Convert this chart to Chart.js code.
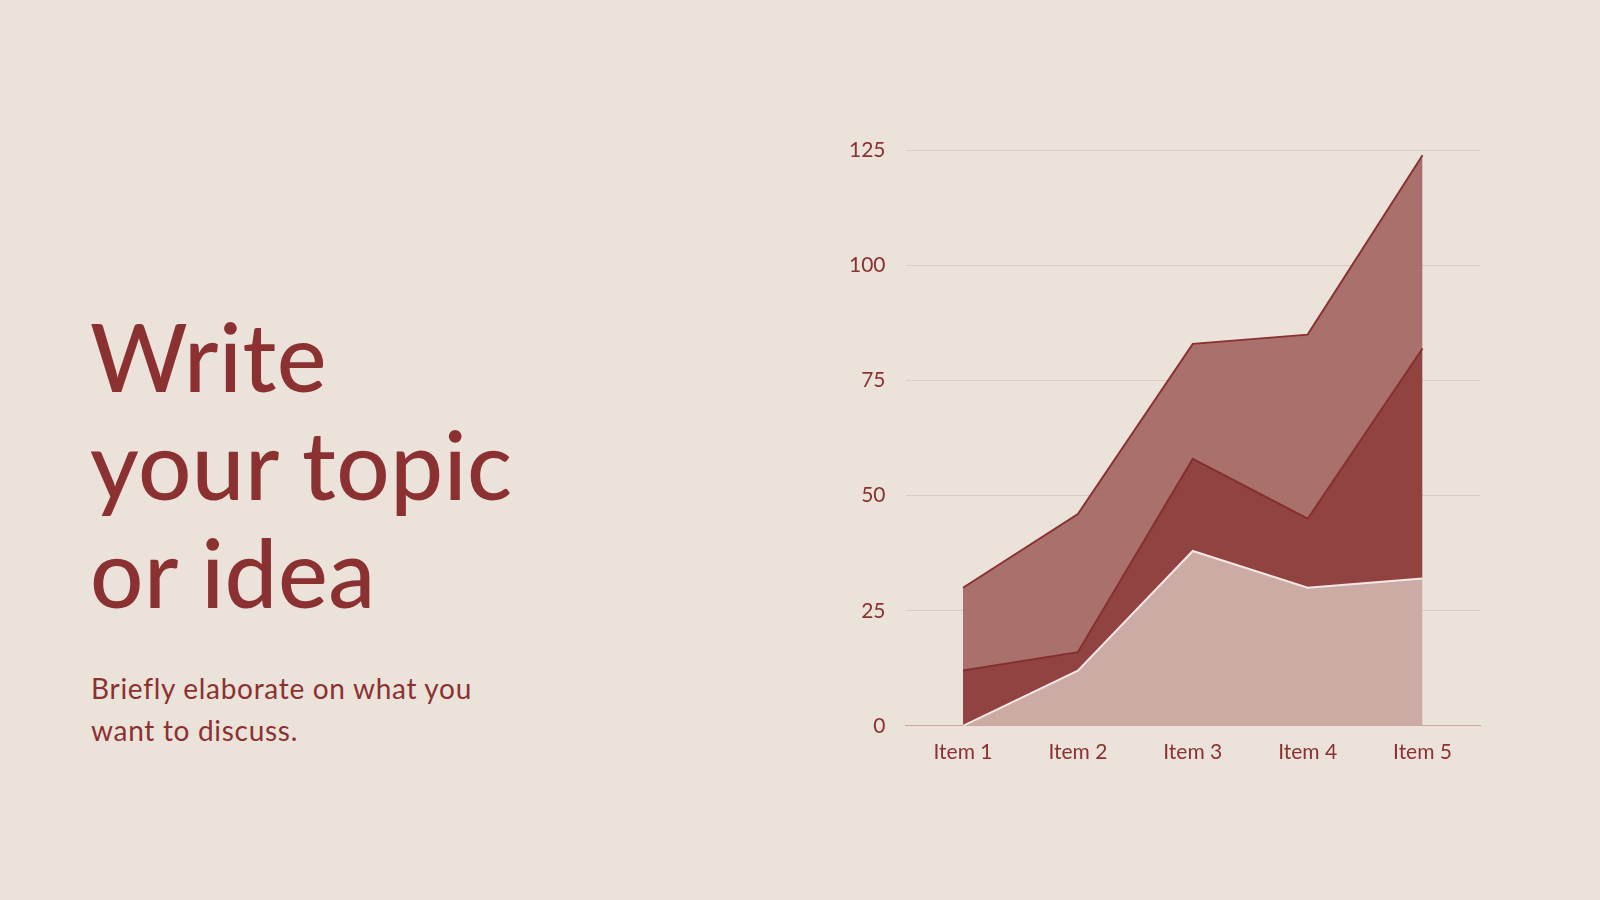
<!DOCTYPE html>
<html>
<head>
<meta charset="utf-8">
<script src="https://cdn.jsdelivr.net/npm/chart.js@4"></script>
<style>
  html, body { margin: 0; padding: 0; }
  body { width: 1600px; height: 900px; background: #ebe2da; position: relative; overflow: hidden; font-family: Lato, "Open Sans", sans-serif; color: #8b3131; }
  #title { position: absolute; left: 90px; top: 302px; font-size: 94px; line-height: 108px; font-weight: 500; letter-spacing: 0.5px; margin: 0; }
  #sub { position: absolute; left: 91px; top: 667px; font-size: 28px; line-height: 42px; letter-spacing: 0.7px; margin: 0; }
  #wrap { position: absolute; left: 820px; top: 118px; width: 680px; height: 653px; }
</style>
</head>
<body>
<h1 id="title">Write<br>your topic<br>or idea</h1>
<p id="sub">Briefly elaborate on what you<br>want to discuss.</p>
<div id="wrap"><canvas id="areaChart"></canvas></div>
<script>
// chart data
const items = ['Item 1', 'Item 2', 'Item 3', 'Item 4', 'Item 5'];
const series1 = [0, 12, 38, 30, 32];
const series2 = [12, 4, 20, 15, 50];
const series3 = [18, 30, 25, 40, 42];
const yTicks = [0, 25, 50, 75, 100, 125];

const textColor = '#8b3131';

// Draw the stacked area chart
function drawChart() {
    const ctx = document.getElementById('areaChart').getContext('2d');
    new Chart(ctx, {
        type: 'line',
        data: {
            labels: items,
            datasets: [{
                label: 'Series 1',
                data: series1,
                fill: 'origin',
                backgroundColor: '#ccaba4',
                borderColor: '#f4e8e4',
                borderWidth: 2
            },
            {
                label: 'Series 2',
                data: series2,
                fill: '-1',
                backgroundColor: 'rgba(140, 58, 58, 0.95)',
                borderColor: '#853030',
                borderWidth: 2
            },
            {
                label: 'Series 3',
                data: series3,
                fill: '-1',
                backgroundColor: 'rgba(166, 104, 100, 0.94)',
                borderColor: '#8a3232',
                borderWidth: 2
            }]
        },
        options: {
            responsive: true,
            maintainAspectRatio: false,
            animation: false,
            elements: { point: { radius: 0 }, line: { tension: 0 } },
            layout: { padding: { top: 10, right: 20, bottom: 0, left: 9 } },
            plugins: { legend: { display: false }, tooltip: { enabled: false } },
            scales: {
                x: {
                    offset: true,
                    grid: { display: false },
                    border: { display: true, color: '#c9a49c', width: 1 },
                    ticks: { color: textColor, font: { family: 'Lato', size: 21 }, padding: 6 }
                },
                y: {
                    stacked: true,
                    min: 0,
                    max: 125,
                    afterBuildTicks: axis => { axis.ticks = yTicks.map(v => ({ value: v })); },
                    grid: { color: '#dccbc2', lineWidth: 1, drawTicks: false },
                    border: { display: false },
                    ticks: { color: textColor, font: { family: 'Lato', size: 21 }, padding: 20 }
                }
            }
        }
    });
}

drawChart();
</script>
</body>
</html>
